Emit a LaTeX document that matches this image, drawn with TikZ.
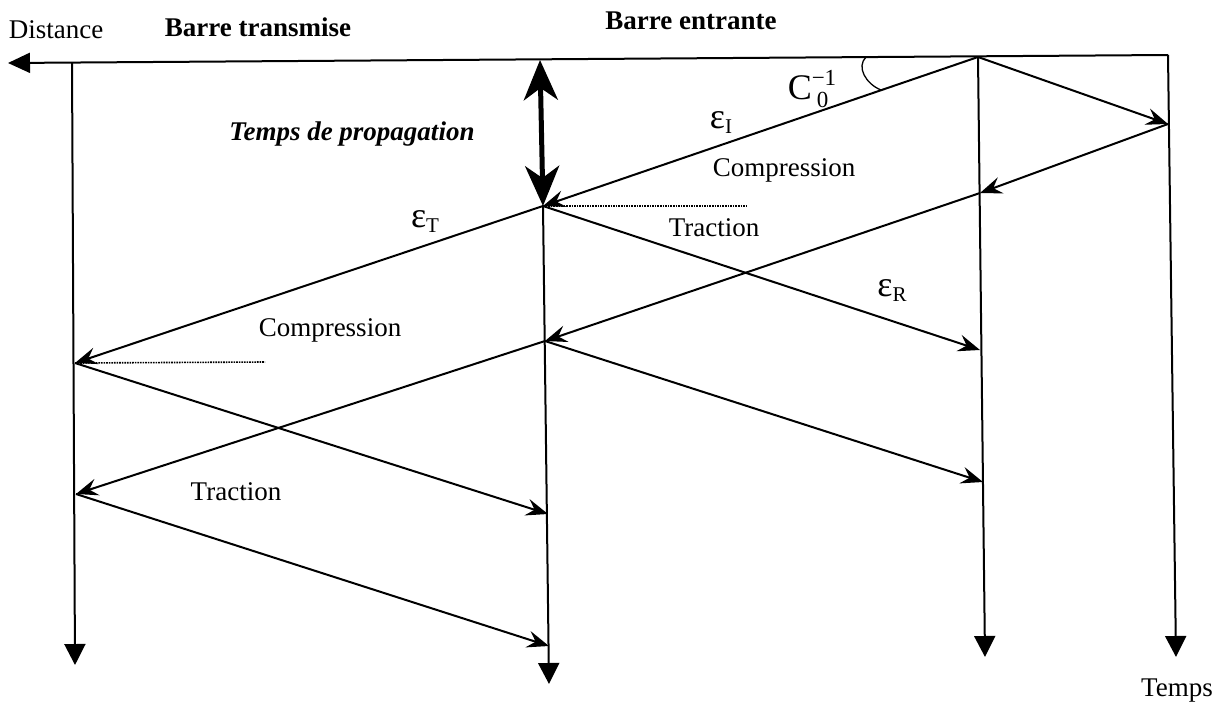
\documentclass[tikz,border=0pt]{standalone}
\usepackage{fontspec}
\setmainfont{Liberation Serif}
\usetikzlibrary{arrows.meta}
\newcommand{\epsfont}{\fontsize{36}{40}\selectfont}
\newcommand{\subfont}{\fontsize{21}{24}\selectfont}
\newcommand{\scrfont}{\fontsize{23}{26}\selectfont}
\newcommand{\epslab}[1]{{\epsfont ε}\raisebox{-5pt}{\subfont #1}}
\begin{document}
\begin{tikzpicture}[x=1pt,y=-1pt,
  wave/.style={line width=2pt, -{Stealth[length=22pt,width=17pt,inset=8pt]}},
  axis/.style={line width=2pt, -{Triangle[length=21pt,width=21pt]}},
  lbl/.style={font=\fontsize{27}{32}\selectfont, inner sep=0pt},
  dots/.style={line width=1.6pt, densely dotted}]
\useasboundingbox (0,0) rectangle (1223,709);
% key points
\coordinate (R0) at (1168,55);
\coordinate (L0) at (8,63);
\coordinate (A) at (978,57);
\coordinate (B) at (1168,124);
\coordinate (C) at (980,193);
\coordinate (D) at (543,206);
\coordinate (E) at (545,341);
\coordinate (F) at (980,350);
\coordinate (G) at (983,482);
\coordinate (H) at (75,363);
\coordinate (I) at (76,494);
\coordinate (J) at (548,514);
\coordinate (K) at (549,646);
\coordinate (T1) at (540,60);
\coordinate (V1a) at (72,63);
\coordinate (V1b) at (75,665);
\coordinate (V2b) at (549,684);
\coordinate (V3b) at (985,657);
\coordinate (V4b) at (1176,657);
\coordinate (Du) at (747,206);
\coordinate (Hu) at (265,362);
\coordinate (Ar1) at (866,57);
\coordinate (Ar2) at (881,90);
% axes
\draw[line width=2pt, -{Triangle[length=22pt,width=20pt]}] (R0) -- (L0);
\draw[axis] (V1a) -- (V1b);
\draw[axis] (D) -- (V2b);
\draw[axis] (A) -- (V3b);
\draw[axis] (R0) -- (V4b);
% propagation time
\draw[line width=5pt, {Stealth[length=40pt,width=34pt,inset=12pt]}-{Stealth[length=40pt,width=34pt,inset=12pt]}] (T1) -- (D);
% waves
\draw[wave] (A) -- (B);
\draw[wave] (A) -- (D);
\draw[wave] (B) -- (C);
\draw[wave] (C) -- (E);
\draw[wave] (D) -- (F);
\draw[wave] (D) -- (H);
\draw[wave] (E) -- (G);
\draw[wave] (E) -- (I);
\draw[wave] (H) -- (J);
\draw[wave] (I) -- (K);
% dotted
\draw[dots] (D) -- (Du);
\draw[dots] (H) -- (Hu);
% angle
\draw[line width=1.3pt] (Ar1) .. controls (856,67) and (866,84) .. (Ar2);
% labels
\node[lbl] (tDist) at (56,30) {Distance};
\node[lbl, font=\fontsize{27}{32}\selectfont\bfseries] (tBT) at (258,27) {Barre transmise};
\node[lbl, font=\fontsize{27}{32}\selectfont\bfseries] (tBE) at (691,21) {Barre entrante};
\node[lbl, font=\fontsize{27}{32}\selectfont\bfseries\itshape] (tTP) at (352,134) {Temps de propagation};
\node[lbl, font=\fontsize{36}{40}\selectfont] (tC0) at (808,89)
  {C\rlap{\raisebox{14pt}{\scrfont −1}}\raisebox{-8pt}{\scrfont\hspace{5pt}0}\hspace{14pt}};
\node[lbl] (tEI) at (721,123) {\epslab{I}};
\node[lbl] (tComp1) at (784,170) {Compression};
\node[lbl] (tTrac1) at (714,228) {Traction};
\node[lbl] (tET) at (425,222) {\epslab{T}};
\node[lbl] (tER) at (892,291) {\epslab{R}};
\node[lbl] (tComp2) at (330,330) {Compression};
\node[lbl] (tTrac2) at (236,492) {Traction};
\node[lbl] (tTemps) at (1177,691) {Temps};
\end{tikzpicture}
\end{document}
